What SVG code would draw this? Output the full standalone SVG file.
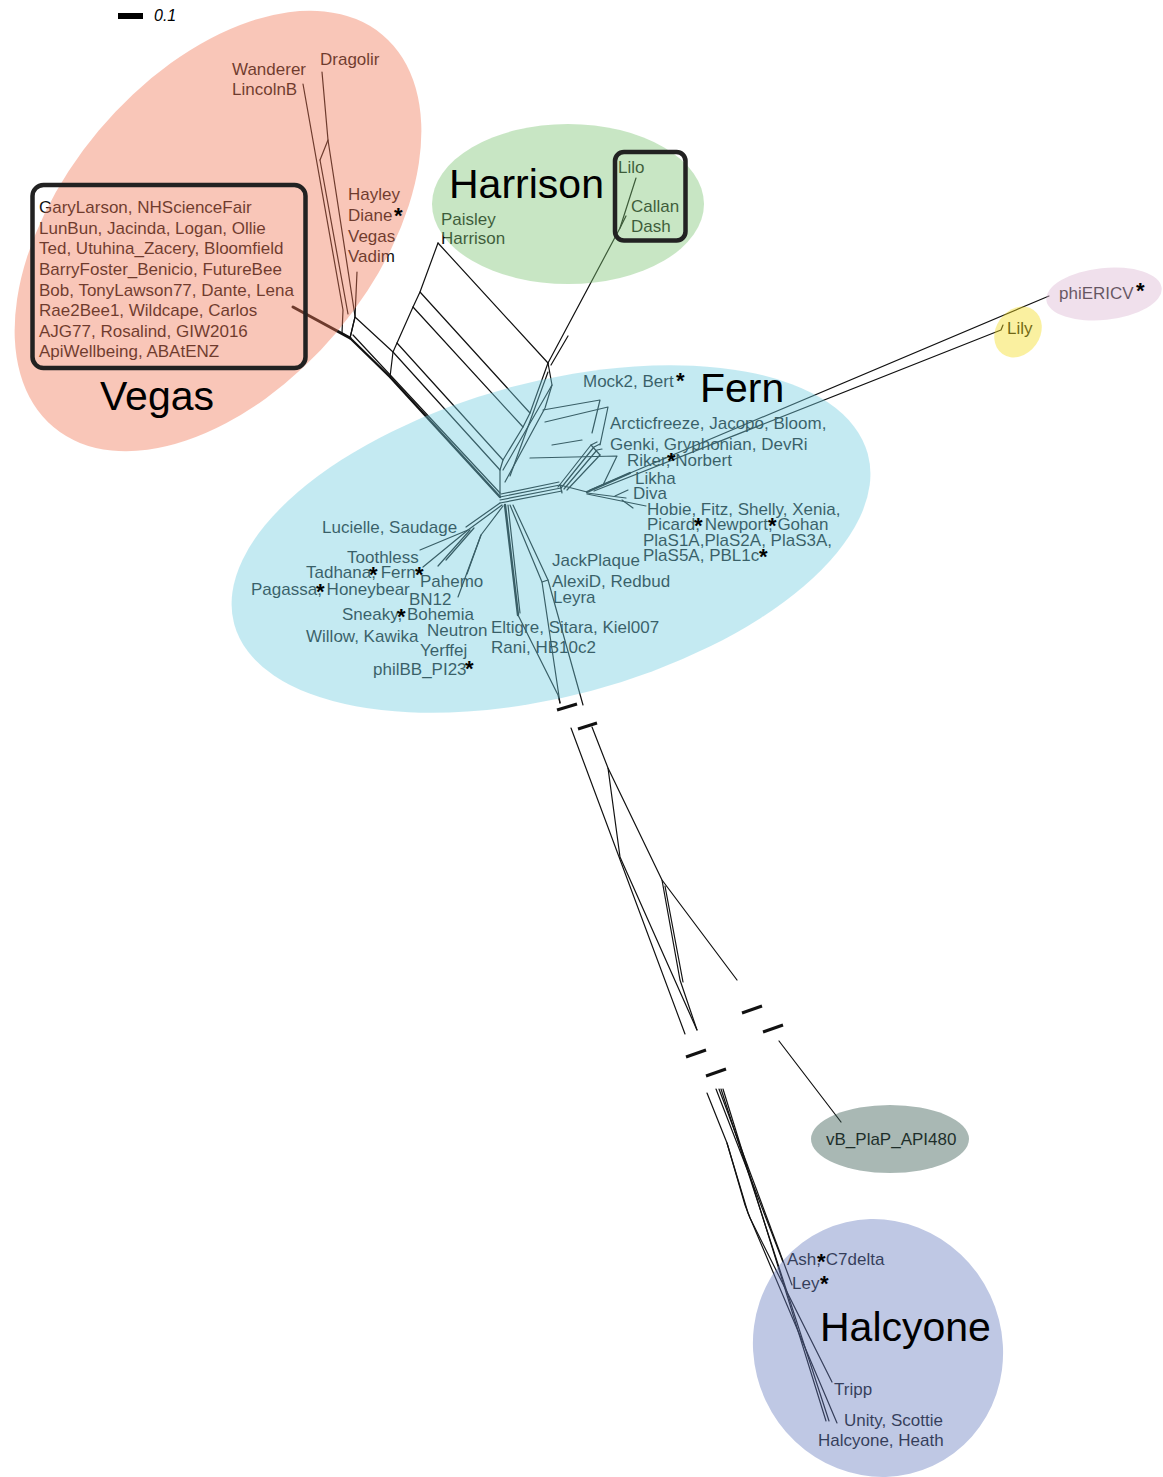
<svg xmlns="http://www.w3.org/2000/svg" width="1163" height="1477" viewBox="0 0 1163 1477">
<style>
.ln{fill:none;stroke:#111;stroke-width:1.2;stroke-linejoin:round;stroke-linecap:round}
.th{stroke-width:2.4}
.brk{fill:none;stroke:#111;stroke-width:3}
text{font-family:"Liberation Sans",Arial,Helvetica,sans-serif}
.lb{font-size:17px;fill:#111}
.big{font-size:41px;fill:#000}
.ast{font-size:22px;font-weight:bold;fill:#000}
.box{fill:none;stroke:#222;stroke-width:4.5}
</style>
<rect width="1163" height="1477" fill="#fff"/>
<g id="scale">
<rect x="118" y="13" width="25" height="6" fill="#000"/>
<text x="154" y="21" style="font-size:16px;font-style:italic" fill="#000">0.1</text>
</g>
<g id="connectors">
<!-- Vegas branch -->
<path class="ln" d="M303,84 L343,310 L342,333 L350,338"/>
<path class="ln" d="M322,72 L328,140 L355,316"/>
<path class="ln" d="M320,160 L328,140"/>
<path class="ln" d="M320,160 L348,314"/>
<path class="ln" d="M357,272 L355,317 L350,338"/>
<path class="ln" style="stroke-width:3" d="M293,307 L350,338"/>
<!-- bundle Vegas -> Fern -->
<path class="ln th" d="M350,338 L390,377 L500,497"/>
<path class="ln" d="M353,335 L500,493"/>
<path class="ln" d="M355,317 L393,352 L500,470"/>
<path class="ln" d="M355,317 L350,338"/>
<path class="ln" d="M393,352 L390,377"/>
<path class="ln" d="M397,343 L503,460"/>
<!-- Harrison ladder -->
<path class="ln" d="M438,243 L420,292 L413,307 L397,343 L393,352"/>
<path class="ln" d="M548,363 L530,413 L523,427 L503,460 L500,470 L500,497"/>
<path class="ln" d="M438,243 L548,363"/>
<path class="ln" d="M420,292 L530,413"/>
<path class="ln" d="M413,307 L523,427"/>
<path class="ln" d="M548,363 L620,228 L636,178"/>
<path class="ln" d="M620,228 L626,216"/>
<path class="ln" d="M551,365 L568,336"/>
<!-- Fern upper -->
<path class="ln" d="M548,363 L552,385 L503,470"/>
<path class="ln" d="M552,385 L545,408 L505,482"/>
<path class="ln" d="M548,372 L510,476"/>
<path class="ln" d="M543,410 L600,400 L592,433"/>
<path class="ln" d="M545,422 L608,407 L600,445"/>
<path class="ln" d="M530,458 L617,456 L603,485"/>
<path class="ln" d="M552,445 L582,440"/>
<path class="ln" d="M558,487 L591,445 L597,442"/>
<path class="ln" d="M561,488 L594,447 L600,444"/>
<path class="ln" d="M564,489 L597,450 L602,449"/>
<path class="ln" d="M567,490 L600,455"/>
<path class="ln" d="M591,445 L600,455"/>
<path class="ln" d="M500,497 L560,485 L587,492"/>
<path class="ln" d="M500,500 L561,488"/>
<path class="ln" d="M500,503 L562,491"/>
<path class="ln" d="M501,494 L559,482"/>
<path class="ln" d="M560,485 L562,493"/>
<path class="ln" style="stroke-width:2.2" d="M587,492 L630,473"/>
<path class="ln" d="M587,493 L626,498"/>
<path class="ln" d="M615,496 L628,490"/>
<path class="ln" d="M587,494 L646,506"/>
<path class="ln" d="M622,500 L633,508"/>
<path class="ln" d="M590,490 L1049,296"/>
<path class="ln" d="M594,491 L1001,330 L1003,325"/>
<!-- Fern lower-left fan -->
<path class="ln" d="M502,505 L468,530 L420,550"/>
<path class="ln" d="M468,530 L423,567"/>
<path class="ln" d="M470,530 L438,566"/>
<path class="ln" d="M474,528 L446,560"/>
<path class="ln" d="M500,503 L466,527"/>
<path class="ln" d="M503,506 L481,535 L458,597"/>
<path class="ln" d="M481,535 L467,574"/>
<!-- Fern lower -->
<path class="ln th" d="M505,505 L518,615"/>
<path class="ln" d="M508,505 L520,613"/>
<path class="ln" d="M518,615 L558,695 L560,703"/>
<path class="ln" d="M510,505 L542,582 L560,703"/>
<path class="ln" d="M513,505 L548,580 L583,705"/>
<path class="ln" d="M542,582 L548,580"/>
<!-- breaks -->
<path class="brk" d="M557,710 L577,704"/>
<path class="brk" d="M578,729 L597,723"/>
<path class="brk" d="M742,1013 L762,1006"/>
<path class="brk" d="M763,1032 L783,1025"/>
<path class="brk" d="M686,1057 L706,1050"/>
<path class="brk" d="M706,1076 L726,1069"/>
<!-- long branch -->
<path class="ln" d="M571,728 L685,1034"/>
<path class="ln" d="M592,727 L608,768 L662,880 L737,980"/>
<path class="ln" d="M608,768 L620,857 L697,1030"/>
<path class="ln" d="M662,880 L680,980 L697,1030"/>
<path class="ln" d="M665,886 L683,982"/>
<path class="ln" d="M779,1041 L841,1122"/>
<!-- Halcyone -->
<path class="ln" d="M707,1093 L727,1143 L745,1205 L750,1218 L832,1382"/>
<path class="ln" d="M716,1089 L783,1262"/>
<path class="ln" d="M719,1089 L792,1285"/>
<path class="ln" d="M721,1089 L829,1421"/>
<path class="ln" d="M723,1089 L826,1421"/>
<path class="ln" d="M727,1143 L748,1213 L837,1423"/>
</g>
<g id="vegas">
<text class="lb" x="232" y="75">Wanderer</text>
<text class="lb" x="232" y="95">LincolnB</text>
<text class="lb" x="320" y="65">Dragolir</text>
<text class="lb" x="348" y="200">Hayley</text>
<text class="lb" x="348" y="221">Diane</text>
<text class="lb" x="348" y="242">Vegas</text>
<text class="lb" x="348" y="262">Vadim</text>
<text class="lb" x="39" y="213">GaryLarson, NHScienceFair</text>
<text class="lb" x="39" y="234">LunBun, Jacinda, Logan, Ollie</text>
<text class="lb" x="39" y="254">Ted, Utuhina_Zacery, Bloomfield</text>
<text class="lb" x="39" y="275">BarryFoster_Benicio, FutureBee</text>
<text class="lb" x="39" y="296">Bob, TonyLawson77, Dante, Lena</text>
<text class="lb" x="39" y="316">Rae2Bee1, Wildcape, Carlos</text>
<text class="lb" x="39" y="337">AJG77, Rosalind, GIW2016</text>
<text class="lb" x="39" y="357">ApiWellbeing, ABAtENZ</text>
<ellipse cx="218" cy="231" rx="256" ry="156" transform="rotate(-50 218 231)" fill="rgb(241,119,86)" fill-opacity="0.42"/>
<rect class="box" x="32.5" y="185" width="273" height="183" rx="11"/>
<text class="ast" x="394" y="223">*</text>
<text class="big" x="100" y="410">Vegas</text>
</g>
<g id="harrison">
<text class="lb" x="441" y="225">Paisley</text>
<text class="lb" x="441" y="244">Harrison</text>
<text class="lb" x="618" y="173">Lilo</text>
<text class="lb" x="631" y="212">Callan</text>
<text class="lb" x="631" y="232">Dash</text>
<ellipse cx="568" cy="204" rx="136" ry="80" fill="rgb(124,195,115)" fill-opacity="0.42"/>
<rect class="box" x="615" y="152" width="70.5" height="88.5" rx="9"/>
<text class="big" x="449" y="198">Harrison</text>
</g>
<g id="phiericv">
<text class="lb" x="1059" y="299">phiERICV</text>
<ellipse cx="1104" cy="294" rx="58" ry="26" transform="rotate(-6 1104 294)" fill="rgb(219,181,210)" fill-opacity="0.42"/>
<text class="ast" x="1136" y="298">*</text>
</g>
<g id="lily">
<text class="lb" x="1007" y="334">Lily</text>
<ellipse cx="1018" cy="332" rx="22" ry="27" transform="rotate(35 1018 332)" fill="rgb(243,219,29)" fill-opacity="0.42"/>
</g>
<g id="fern">
<text class="lb" x="583" y="387">Mock2, Bert</text>
<text class="lb" x="610" y="429">Arcticfreeze, Jacopo, Bloom,</text>
<text class="lb" x="610" y="450">Genki, Gryphonian, DevRi</text>
<text class="lb" x="627" y="466">Riker, Norbert</text>
<text class="lb" x="635" y="484">Likha</text>
<text class="lb" x="633" y="499">Diva</text>
<text class="lb" x="647" y="515">Hobie, Fitz, Shelly, Xenia,</text>
<text class="lb" x="647" y="530">Picard, Newport, Gohan</text>
<text class="lb" x="643" y="546">PlaS1A,PlaS2A, PlaS3A,</text>
<text class="lb" x="643" y="561">PlaS5A, PBL1c</text>
<text class="lb" x="552" y="566">JackPlaque</text>
<text class="lb" x="552" y="587">AlexiD, Redbud</text>
<text class="lb" x="553" y="603">Leyra</text>
<text class="lb" x="491" y="633">Eltigre, Sitara, Kiel007</text>
<text class="lb" x="491" y="653">Rani, HB10c2</text>
<text class="lb" x="322" y="533">Lucielle, Saudage</text>
<text class="lb" x="347" y="563">Toothless</text>
<text class="lb" x="306" y="578">Tadhana, Fern</text>
<text class="lb" x="420" y="587">Pahemo</text>
<text class="lb" x="251" y="595">Pagassa, Honeybear</text>
<text class="lb" x="409" y="605">BN12</text>
<text class="lb" x="342" y="620">Sneaky, Bohemia</text>
<text class="lb" x="306" y="642">Willow, Kawika</text>
<text class="lb" x="427" y="636">Neutron</text>
<text class="lb" x="420" y="656">Yerffej</text>
<text class="lb" x="373" y="675">philBB_PI23</text>
<ellipse cx="551" cy="539" rx="328" ry="157" transform="rotate(-15 551 539)" fill="rgb(115,205,224)" fill-opacity="0.42"/>
<text class="ast" x="676" y="388">*</text>
<text class="ast" x="667" y="468">*</text>
<text class="ast" x="694" y="533">*</text>
<text class="ast" x="768" y="533">*</text>
<text class="ast" x="759" y="564">*</text>
<text class="ast" x="369" y="582">*</text>
<text class="ast" x="415" y="582">*</text>
<text class="ast" x="316" y="599">*</text>
<text class="ast" x="397" y="624">*</text>
<text class="ast" x="465" y="676">*</text>
<text class="big" x="700" y="402">Fern</text>
</g>
<g id="vb">
<text class="lb" x="826" y="1145">vB_PlaP_API480</text>
<ellipse cx="890" cy="1139" rx="79" ry="34" fill="rgb(50,86,77)" fill-opacity="0.42"/>
</g>
<g id="halcyone">
<text class="lb" x="787" y="1265">Ash, C7delta</text>
<text class="lb" x="792" y="1289">Ley</text>
<text class="lb" x="834" y="1395">Tripp</text>
<text class="lb" x="844" y="1426">Unity, Scottie</text>
<text class="lb" x="818" y="1446">Halcyone, Heath</text>
<ellipse cx="878" cy="1348" rx="124" ry="130" transform="rotate(-25 878 1348)" fill="rgb(103,124,191)" fill-opacity="0.42"/>
<text class="ast" x="817" y="1269">*</text>
<text class="ast" x="820" y="1291">*</text>
<text class="big" x="820" y="1341">Halcyone</text>
</g>
</svg>
